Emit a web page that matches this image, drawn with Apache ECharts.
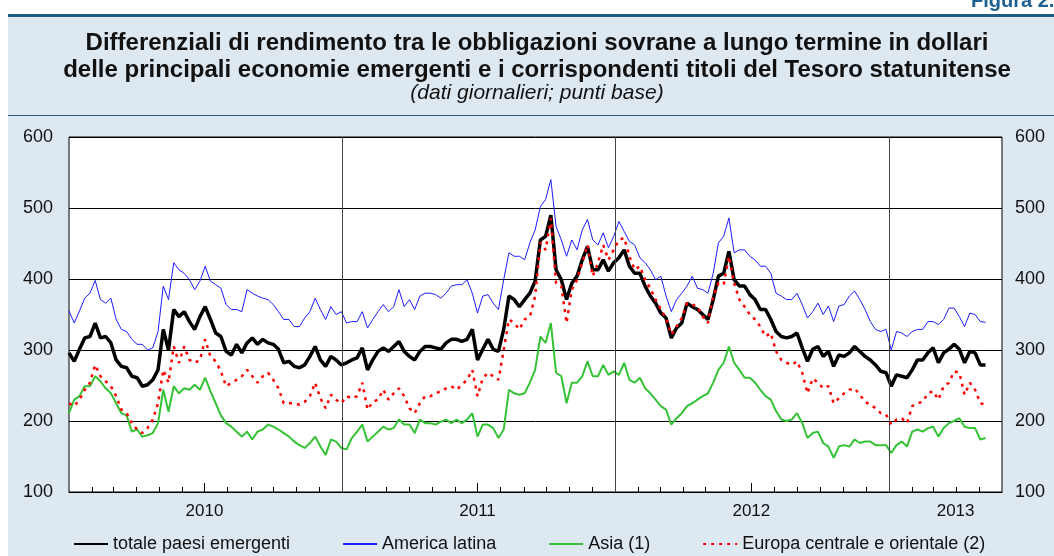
<!DOCTYPE html>
<html lang="it">
<head>
<meta charset="UTF-8" />
<title>Differenziali di rendimento</title>
<style>
  html, body { margin: 0; padding: 0; background: #fff; overflow: hidden; }
  .panel { position: absolute; left: 8px; top: 16px; width: 1046px; height: 540px; background: #dde8f1; }
  .rule-top { position: absolute; left: 8px; top: 14px; width: 1046px; height: 3px; background: #1f5d86; }
  .rule-mid { position: absolute; left: 8px; top: 115px; width: 1046px; height: 1px; background: #2a6089; }
  #chart { position: absolute; left: 0; top: 0; width: 1054px; height: 556px; }
</style>
</head>
<body>
<div class="panel"></div>
<div class="rule-top"></div>
<div class="rule-mid"></div>
<div id="chart"></div>
<script src="https://cdn.jsdelivr.net/npm/echarts@6/dist/echarts.min.js"></script>
<script>
// weekly readings, first point 1 Jan 2010
var startDate = Date.UTC(2010, 0, 1);
var stepDays = 7;

var totale = [
  296, 284, 301, 317, 319, 338, 317, 319, 310, 286, 277, 275, 263, 261, 249, 251, 258, 272, 329, 300, 357, 347, 354, 340, 329, 347, 361, 343, 324, 319, 298, 293, 308, 296, 310, 317, 308,
  315, 310, 308, 301, 282, 284, 277, 275, 279, 291, 305, 286, 277, 291, 286, 279, 282, 286, 289, 303, 272, 286, 298, 303, 298, 305, 312, 298, 291, 286, 298, 305, 305, 303, 301, 310,
  315, 315, 312, 315, 329, 286, 301, 315, 301, 298, 329, 376, 371, 361, 371, 380, 397, 455, 460, 490, 413, 399, 371, 394, 404, 427, 446, 413, 413, 427, 411, 423, 430, 441, 418, 408,
  408, 390, 376, 366, 352, 345, 317, 331, 338, 366, 361, 357, 350, 343, 371, 404, 408, 439, 399, 390, 390, 378, 371, 357, 357, 343, 326, 319, 317, 319, 324, 303, 284, 301, 305, 291,
  298, 277, 293, 291, 296, 305, 298, 291, 286, 279, 270, 268, 249, 265, 263, 261, 272, 286, 286, 296, 303, 282, 296, 301, 308, 301, 282, 298, 296, 279, 279
];
var americaLatina = [
  355, 338, 355, 373, 380, 398, 371, 366, 373, 343, 329, 326, 315, 308, 308, 300, 303, 326, 390, 371, 423, 413, 408, 399, 385, 397, 418, 397, 392, 387, 364, 357, 357, 354, 385, 380, 376,
  373, 371, 364, 354, 343, 343, 333, 333, 345, 354, 373, 357, 343, 361, 350, 354, 338, 340, 340, 354, 331, 343, 354, 364, 354, 361, 385, 361, 371, 357, 376, 380, 380, 378, 373, 380,
  390, 392, 392, 399, 380, 352, 376, 378, 366, 357, 399, 437, 432, 432, 427, 451, 469, 502, 512, 540, 474, 455, 432, 455, 441, 469, 484, 455, 448, 465, 444, 460, 481, 467, 453, 448,
  430, 423, 413, 399, 404, 376, 354, 371, 380, 390, 404, 387, 385, 380, 408, 451, 460, 486, 437, 441, 441, 432, 427, 418, 418, 408, 380, 376, 371, 371, 380, 364, 345, 354, 366, 350,
  362, 340, 362, 364, 376, 383, 371, 357, 340, 329, 326, 329, 300, 326, 324, 319, 326, 329, 329, 340, 340, 336, 343, 359, 359, 347, 333, 352, 350, 340, 339
];
var asia = [
  211, 230, 235, 249, 249, 263, 256, 246, 239, 225, 211, 208, 185, 188, 178, 180, 183, 197, 244, 213, 249, 239, 246, 244, 251, 244, 261, 242, 225, 208, 197, 192, 185, 178, 185, 174, 185,
  188, 195, 192, 188, 183, 178, 171, 166, 162, 169, 178, 164, 152, 174, 171, 162, 160, 176, 185, 195, 171, 178, 185, 192, 188, 190, 202, 195, 195, 183, 202, 197, 197, 195, 199, 202,
  197, 202, 197, 202, 211, 178, 195, 195, 190, 176, 188, 244, 239, 237, 239, 254, 272, 319, 310, 338, 268, 263, 225, 254, 254, 263, 284, 263, 263, 279, 265, 270, 265, 282, 258, 254,
  261, 246, 239, 230, 221, 216, 195, 204, 211, 221, 225, 230, 235, 239, 254, 272, 282, 305, 282, 272, 261, 261, 254, 244, 235, 230, 214, 202, 200, 202, 211, 197, 176, 183, 185, 169,
  164, 148, 164, 166, 164, 174, 169, 171, 171, 166, 166, 166, 155, 166, 171, 164, 185, 188, 185, 190, 192, 178, 190, 197, 200, 204, 192, 190, 190, 174, 176
];
var europa = [
  225, 221, 230, 244, 254, 279, 263, 256, 249, 235, 216, 211, 197, 188, 183, 190, 202, 225, 272, 254, 305, 282, 305, 286, 282, 286, 315, 291, 284, 270, 249, 254, 258, 263, 272, 263, 254,
  263, 268, 258, 246, 225, 225, 225, 223, 227, 235, 254, 232, 218, 237, 230, 225, 235, 232, 235, 254, 216, 227, 230, 244, 230, 239, 246, 235, 218, 211, 225, 235, 235, 239, 242, 246,
  249, 244, 251, 258, 272, 235, 260, 268, 263, 258, 300, 343, 338, 329, 343, 347, 376, 451, 441, 485, 394, 390, 338, 385, 399, 423, 448, 404, 423, 448, 427, 441, 455, 458, 432, 413,
  418, 399, 387, 371, 357, 345, 322, 333, 345, 366, 364, 361, 347, 338, 376, 394, 392, 432, 394, 371, 361, 350, 343, 333, 319, 324, 298, 286, 282, 279, 284, 268, 239, 260, 254, 246,
  249, 225, 232, 239, 244, 246, 237, 227, 223, 218, 211, 209, 195, 202, 204, 197, 221, 225, 227, 239, 242, 230, 249, 254, 270, 268, 237, 254, 244, 225, 223
];

var seriesNames = ['totale paesi emergenti', 'America latina', 'Asia (1)', 'Europa centrale e orientale (2)'];
var yearLabels = ['2010', '2011', '2012', '2013'];
var yearLabelDates = ['2010-07-01', '2011-07-01', '2012-07-01', '2013-03-31'];
var midYearTicks = ['2010-07-01', '2011-07-01', '2012-07-01'];
var yearLines = ['2011-01-01', '2012-01-01', '2013-01-01'];

var FONT = '"Liberation Sans", Arial, Helvetica, sans-serif';

function day(s) {
  var p = s.split('-');
  return Date.UTC(+p[0], +p[1] - 1, +p[2]);
}
var xMin = day('2010-01-01');
var xMax = day('2013-06-01');

function pairs(arr) {
  return arr.map(function (v, i) {
    return [startDate + i * stepDays * 86400000, v];
  });
}

// month ticks (january is the year line, july gets the long tick)
var monthTicks = [];
for (var y = 2010; y <= 2013; y++) {
  for (var m = 1; m < 12; m++) {
    var t = Date.UTC(y, m, 1);
    if (m !== 6 && t < xMax) monthTicks.push(t);
  }
}

var chart = echarts.init(document.getElementById('chart'));

var option = {
  animation: false,
  backgroundColor: 'transparent',
  graphic: [
    {
      type: 'text', x: 537, y: 30, silent: true,
      style: {
        text: 'Differenziali di rendimento tra le obbligazioni sovrane a lungo termine in dollari\ndelle principali economie emergenti e i corrispondenti titoli del Tesoro statunitense',
        fontFamily: FONT, fontSize: 24, fontWeight: 'bold', lineHeight: 27,
        fill: '#111', align: 'center', textAlign: 'center', verticalAlign: 'top', textVerticalAlign: 'top'
      }
    },
    {
      type: 'text', x: 537, y: 83, silent: true,
      style: {
        text: '(dati giornalieri; punti base)',
        fontFamily: FONT, fontSize: 21, fontStyle: 'italic', lineHeight: 21,
        fill: '#111', align: 'center', textAlign: 'center', verticalAlign: 'top', textVerticalAlign: 'top'
      }
    },
    {
      type: 'text', x: 971, y: 1, silent: true,
      style: {
        text: 'Figura 2.',
        fontFamily: FONT, fontSize: 20, fontWeight: 'bold',
        fill: '#1d6193', align: 'left', textAlign: 'left', verticalAlign: 'middle', textVerticalAlign: 'middle'
      }
    }
  ],
  legend: {
    data: seriesNames,
    left: 73,
    top: 535,
    padding: 0,
    itemWidth: 34,
    itemHeight: 14,
    itemGap: 52,
    itemStyle: { opacity: 0 },
    textStyle: { fontFamily: FONT, fontSize: 18, color: '#111' }
  },
  grid: {
    left: 69, right: 52, top: 137, bottom: 64,
    show: true, backgroundColor: '#fff', borderColor: '#000', borderWidth: 1,
    outerBoundsMode: 'none'
  },
  xAxis: [
    {
      type: 'value', min: xMin, max: xMax,
      axisLine: { show: true, lineStyle: { color: '#000', width: 1 } },
      axisTick: { show: true, inside: true, length: 5, customValues: monthTicks, lineStyle: { color: '#000' } },
      axisLabel: { show: false },
      splitLine: { show: false }
    },
    {
      type: 'value', min: xMin, max: xMax, position: 'bottom',
      axisLine: { show: false },
      axisTick: { show: true, inside: true, length: 9, customValues: midYearTicks.map(day), lineStyle: { color: '#000' } },
      axisLabel: {
        show: true, customValues: yearLabelDates.map(day), margin: 11,
        fontFamily: FONT, fontSize: 17, color: '#111',
        formatter: function (v) {
          var yr = String(new Date(+v).getUTCFullYear());
          return yearLabels.indexOf(yr) >= 0 ? yr : '';
        }
      },
      splitLine: { show: false }
    }
  ],
  yAxis: [
    {
      type: 'value', min: 100, max: 600, interval: 100, position: 'left',
      axisLine: { show: false }, axisTick: { show: false },
      axisLabel: { margin: 16, fontFamily: FONT, fontSize: 18, color: '#111' },
      splitLine: { show: true, lineStyle: { color: '#000', width: 1 } }
    },
    {
      type: 'value', min: 100, max: 600, interval: 100, position: 'right',
      axisLine: { show: false }, axisTick: { show: false },
      axisLabel: { margin: 13, fontFamily: FONT, fontSize: 18, color: '#111' },
      splitLine: { show: false }
    }
  ],
  series: [
    {
      name: 'year lines', type: 'line', data: [], z: 1, silent: true,
      markLine: {
        silent: true, symbol: 'none', animation: false,
        label: { show: false },
        lineStyle: { color: '#444', width: 1, type: 'solid' },
        data: yearLines.map(function (d) { return { xAxis: day(d) }; })
      }
    },
    {
      name: seriesNames[1], type: 'line', data: pairs(americaLatina), z: 2,
      symbol: 'none', color: '#1c1cff',
      lineStyle: { color: '#1c1cff', width: 1 }
    },
    {
      name: seriesNames[2], type: 'line', data: pairs(asia), z: 3,
      symbol: 'none', color: '#36c236',
      lineStyle: { color: '#36c236', width: 2 }
    },
    {
      name: seriesNames[0], type: 'line', data: pairs(totale), z: 4,
      symbol: 'none', color: '#000',
      lineStyle: { color: '#000', width: 3.5 }
    },
    {
      name: seriesNames[3], type: 'line', data: pairs(europa), z: 5,
      symbol: 'none', color: '#ff0000',
      lineStyle: { color: '#ff0000', width: 2.5, type: [3, 5] }
    }
  ]
};

chart.setOption(option);
</script>
</body>
</html>
